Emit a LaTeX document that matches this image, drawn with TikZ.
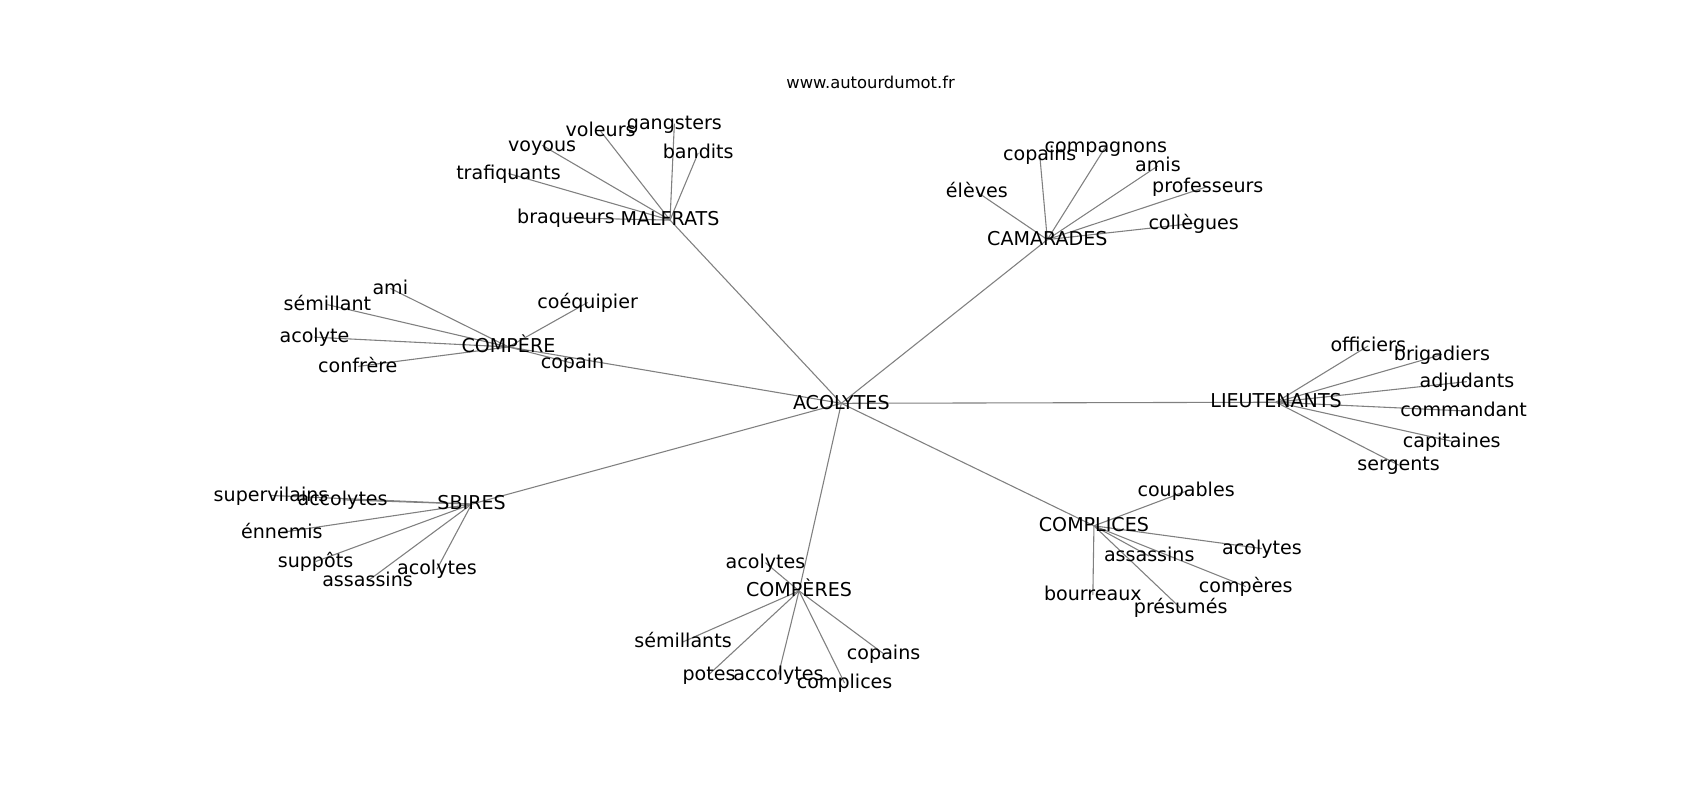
\documentclass[tikz,border=0pt]{standalone}
\usepackage{fontspec}
\setmainfont{DejaVu Sans}
\usetikzlibrary{backgrounds}
\begin{document}
\begin{tikzpicture}
  [x=0.5pt,y=-0.5pt,every node/.style={inner sep=0pt, text height=0.76em, text depth=0.23em, font=\fontsize{8.8}{10}\selectfont}]
  \useasboundingbox (0,0) rectangle (1568,738);
  \node[font=\fontsize{7.55}{9}\selectfont] (title) at (803,76) {www.autourdumot.fr};

  \node (acol) at (776,372) {ACOLYTES};

  \node (malf) at (618,203) {MALFRATS};
  \node (m1) at (522,201) {braqueurs};
  \node (m2) at (469,160) {trafiquants};
  \node (m3) at (500,134) {voyous};
  \node (m4) at (554,121) {voleurs};
  \node (m5) at (622,114) {gangsters};
  \node (m6) at (644,141) {bandits};

  \node (cama) at (966,221) {CAMARADES};
  \node (c1) at (901,177) {élèves};
  \node (c2) at (959,143) {copains};
  \node (c3) at (1020,135) {compagnons};
  \node (c4) at (1068,153) {amis};
  \node (c5) at (1114,172) {professeurs};
  \node (c6) at (1101,206) {collègues};

  \node (cpre) at (469,320) {COMPÈRE};
  \node (p1) at (360,266) {ami};
  \node (p2) at (302,281) {sémillant};
  \node (p3) at (290,311) {acolyte};
  \node (p4) at (330,338) {confrère};
  \node (p5) at (542,279) {coéquipier};
  \node (p6) at (528,335) {copain};

  \node (lieu) at (1177,371) {LIEUTENANTS};
  \node (l1) at (1262,319) {officiers};
  \node (l2) at (1330,327) {brigadiers};
  \node (l3) at (1353,352) {adjudants};
  \node (l4) at (1350,379) {commandant};
  \node (l5) at (1339,407) {capitaines};
  \node (l6) at (1290,429) {sergents};

  \node (sbir) at (435,465) {SBIRES};
  \node (s1) at (250,457) {supervilains};
  \node (s2) at (316,461) {accolytes};
  \node (s3) at (260,491) {énnemis};
  \node (s4) at (291,518) {suppôts};
  \node (s5) at (339,536) {assassins};
  \node (s6) at (403,525) {acolytes};

  \node (cpres) at (737,545) {COMPÈRES};
  \node (r1) at (706,519) {acolytes};
  \node (r2) at (630,592) {sémillants};
  \node (r3) at (654,622) {potes};
  \node (r4) at (718,622) {accolytes};
  \node (r5) at (779,630) {complices};
  \node (r6) at (815,603) {copains};

  \node (cpli) at (1009,485) {COMPLICES};
  \node (k1) at (1094,453) {coupables};
  \node (k2) at (1164,506) {acolytes};
  \node (k3) at (1060,513) {assassins};
  \node (k4) at (1149,541) {compères};
  \node (k5) at (1008,549) {bourreaux};
  \node (k6) at (1089,561) {présumés};

  \begin{pgfonlayer}{background}
  \foreach \from/\to in {acol/malf,acol/cama,acol/cpre,acol/lieu,acol/sbir,acol/cpres,acol/cpli,
      malf/m1,malf/m2,malf/m3,malf/m4,malf/m5,malf/m6,
      cama/c1,cama/c2,cama/c3,cama/c4,cama/c5,cama/c6,
      cpre/p1,cpre/p2,cpre/p3,cpre/p4,cpre/p5,cpre/p6,
      lieu/l1,lieu/l2,lieu/l3,lieu/l4,lieu/l5,lieu/l6,
      sbir/s1,sbir/s2,sbir/s3,sbir/s4,sbir/s5,sbir/s6,
      cpres/r1,cpres/r2,cpres/r3,cpres/r4,cpres/r5,cpres/r6,
      cpli/k1,cpli/k2,cpli/k3,cpli/k4,cpli/k5,cpli/k6}
    \draw[gray,line width=0.5pt] (\from.center) -- (\to.center);
  \end{pgfonlayer}
\end{tikzpicture}
\end{document}
